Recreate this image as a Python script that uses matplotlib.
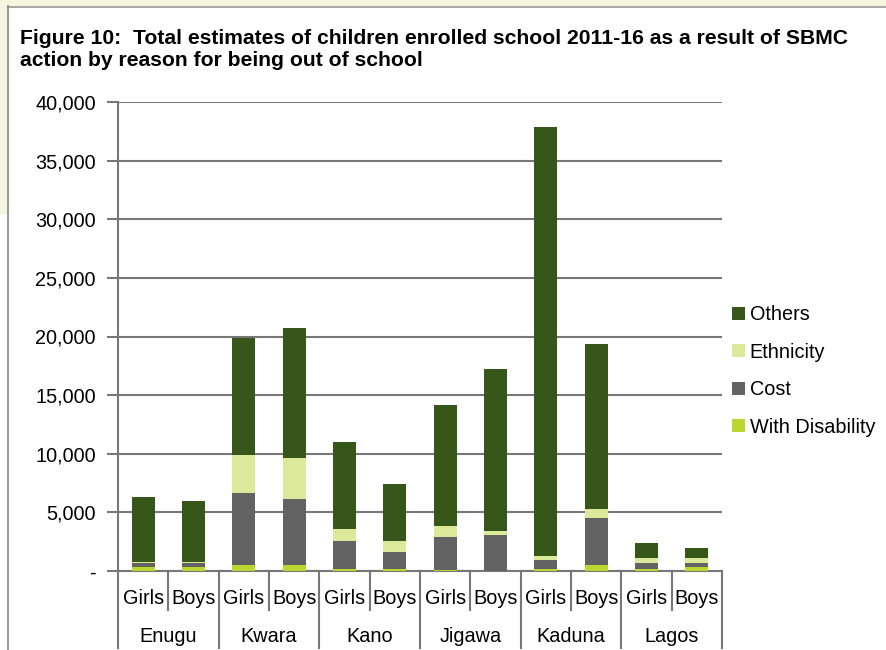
import matplotlib
matplotlib.use("Agg")
import matplotlib.pyplot as plt
from matplotlib.patches import Rectangle
from matplotlib.lines import Line2D
import numpy as np

plt.rcParams['font.family'] = ['Liberation Sans', 'DejaVu Sans']

# data (stacked from bottom)
states = ['Enugu', 'Kwara', 'Kano', 'Jigawa', 'Kaduna', 'Lagos']
sexes = ['Girls', 'Boys']
disability = [320, 380, 470, 470, 130, 130, 50, 0, 210, 470, 210, 300]
cost = [320, 260, 6140, 5710, 2470, 1450, 2890, 3110, 770, 4010, 510, 340]
ethnicity = [110, 170, 3270, 3500, 940, 1020, 940, 260, 340, 770, 430, 430]
others = [5520, 5120, 10020, 11020, 7420, 4780, 10240, 13900, 36590, 14150, 1200, 850]
yticks = [0, 5000, 10000, 15000, 20000, 25000, 30000, 35000, 40000]
ytick_labels = ['-', '5,000', '10,000', '15,000', '20,000', '25,000', '30,000', '35,000', '40,000']

c_others = '#36561a'
c_eth = '#dde99a'
c_cost = '#636363'
c_dis = '#bcd631'
yellow = '#f4f6df'
grid_c = '#777777'
fs = 14.3

W, H = 887, 650
fig = plt.figure(figsize=(W / 100, H / 100), dpi=100, facecolor='white')

# page frame (yellow box edge from the report)
fig.patches.append(Rectangle((0, 1 - 6 / H), 1, 6 / H, transform=fig.transFigure, color=yellow, zorder=0))
fig.patches.append(Rectangle((0, 1 - 213 / H), 8 / W, 213 / H, transform=fig.transFigure, color=yellow, zorder=0))
fig.lines.append(Line2D([8 / W, 1], [1 - 6.5 / H] * 2, transform=fig.transFigure, color='#999999', lw=1.2))
fig.lines.append(Line2D([8.5 / W] * 2, [0, 1 - 6 / H], transform=fig.transFigure, color='#888888', lw=1.2))

fig.text(20 / W, 1 - 38 / H, 'Figure 10:  Total estimates of children enrolled school 2011-16 as a result of SBMC',
         fontsize=15.2, fontweight='bold', va='center', ha='left')
fig.text(20 / W, 1 - 60 / H, 'action by reason for being out of school',
         fontsize=15.2, fontweight='bold', va='center', ha='left')

ax = fig.add_axes([118 / W, 79 / H, (722 - 118) / W, (571 - 102) / H])
x = np.arange(len(others))
bw = 0.46
b1 = np.array(disability)
b2 = b1 + np.array(cost)
b3 = b2 + np.array(ethnicity)
ax.bar(x, disability, bw, color=c_dis, label='With Disability', zorder=3)
ax.bar(x, cost, bw, bottom=b1, color=c_cost, label='Cost', zorder=3)
ax.bar(x, ethnicity, bw, bottom=b2, color=c_eth, label='Ethnicity', zorder=3)
ax.bar(x, others, bw, bottom=b3, color=c_others, label='Others', zorder=3)

ax.set_xlim(-0.5, len(others) - 0.5)
ax.set_ylim(0, 40000)
ax.set_yticks(yticks)
ax.set_yticklabels(ytick_labels, fontsize=fs)
ax.yaxis.grid(True, color=grid_c, lw=1.5, zorder=0)
ax.tick_params(axis='y', length=8, width=1.5, color=grid_c, pad=8)
ax.set_xticks([])
for s in ['top', 'right']:
    ax.spines[s].set_visible(False)
for s in ['left', 'bottom']:
    ax.spines[s].set_color(grid_c)
    ax.spines[s].set_linewidth(1.5)

# two-level category axis
tr = ax.get_xaxis_transform()
ppy = 1 / (571 - 102)
for i in range(len(others) + 1):
    xb = i - 0.5
    depth = 77 if i % 2 == 0 else 39
    ax.add_line(Line2D([xb, xb], [0, -depth * ppy], transform=tr, color=grid_c, lw=1.5, clip_on=False))
for i in range(len(others)):
    ax.text(i, -28 * ppy, sexes[i % 2], transform=tr, ha='center', va='center', fontsize=fs)
for g, st in enumerate(states):
    ax.text(2 * g + 0.5, -65 * ppy, st, transform=tr, ha='center', va='center', fontsize=fs)

handles, labels = ax.get_legend_handles_labels()
fig.legend(handles[::-1], labels[::-1], loc='center left', bbox_to_anchor=(732 / W, 1 - 371 / H),
           frameon=False, fontsize=fs, handlelength=0.65, handleheight=0.65, handletextpad=0.25,
           labelspacing=0.93, borderpad=0, borderaxespad=0)

fig.savefig('out.png', dpi=100, facecolor=fig.get_facecolor())
